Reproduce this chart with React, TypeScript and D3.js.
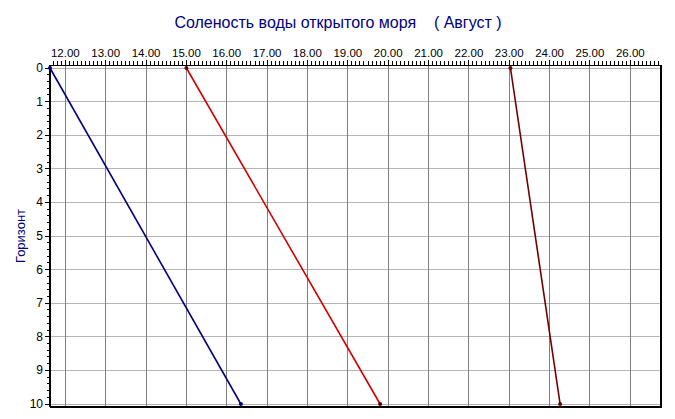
import React from "react";
import * as d3 from "d3";

const depths = [0, 10];
const seriesNames = ["s1", "s2", "s3"];
const series1 = [11.62, 16.35];
const series2 = [15.0, 19.8];
const series3 = [23.03, 24.26];
const seriesColors = ["#000080", "#d00000", "#700000"];
const xTicks = [12, 13, 14, 15, 16, 17, 18, 19, 20, 21, 22, 23, 24, 25, 26];
const yTicks = [0, 1, 2, 3, 4, 5, 6, 7, 8, 9, 10];
const title = "Соленость воды открытого моря    ( Август )";
const yLabel = "Горизонт";

export default function App() {
  const W = 675, H = 419;
  const left = 50, right = 661, top = 65, bottom = 407;
  const x = d3.scaleLinear().domain([11.62, 26.76]).range([left, right]);
  const y = d3.scaleLinear().domain([0, 10]).range([68, 404]);
  const all = [series1, series2, series3];
  const line = d3.line<[number, number]>().x((d) => x(d[0])).y((d) => y(d[1]));
  const minorX = d3.range(116, 268).map((v) => v / 10).filter((v) => x(v) >= left && x(v) <= right);
  const minorY = d3.range(0, 51).map((v) => v / 5);
  const font = "Arial, 'Liberation Sans', sans-serif";
  return (
    <svg width={W} height={H} style={{ position: "absolute", left: 0, top: 0, background: "#fff" }}>
      <text x={338} y={28} textAnchor="middle" fontFamily={font} fontSize={16} fill="#000080" style={{ whiteSpace: "pre" }}>
        {title}
      </text>
      {/* grid */}
      {yTicks.map((t) => (
        <line key={"hy" + t} x1={left} x2={right} y1={y(t)} y2={y(t)} stroke="#b4b4b4" strokeWidth={1} shapeRendering="crispEdges" />
      ))}
      {xTicks.map((t) => (
        <line key={"vx" + t} x1={x(t)} x2={x(t)} y1={top} y2={bottom} stroke="#808080" strokeWidth={1} shapeRendering="crispEdges" />
      ))}
      {/* frame */}
      <line x1={left} x2={right} y1={top} y2={top} stroke="#000" strokeWidth={1} shapeRendering="crispEdges" />
      <line x1={left} x2={left} y1={top} y2={bottom} stroke="#000" strokeWidth={1.5} shapeRendering="crispEdges" />
      <line x1={right} x2={right} y1={top} y2={bottom + 1} stroke="#000" strokeWidth={2} shapeRendering="crispEdges" />
      <line x1={left} x2={right + 1} y1={bottom} y2={bottom} stroke="#000" strokeWidth={2} shapeRendering="crispEdges" />
      {/* top axis ticks */}
      {minorX.map((v, i) => {
        const major = Math.abs(v - Math.round(v)) < 1e-6;
        return (
          <line key={"mx" + i} x1={x(v)} x2={x(v)} y1={major ? top - 5 : top - 4} y2={top} stroke="#000" strokeWidth={1} shapeRendering="crispEdges" />
        );
      })}
      {xTicks.map((t) => (
        <text key={"xl" + t} x={x(t)} y={57} textAnchor="middle" fontFamily={font} fontSize={11.5} fill="#000">
          {t.toFixed(2)}
        </text>
      ))}
      {/* left axis ticks */}
      {minorY.map((v, i) => {
        const major = Math.abs(v - Math.round(v)) < 1e-6;
        return (
          <line key={"my" + i} x1={major ? left - 5 : left - 3} x2={left} y1={y(v)} y2={y(v)} stroke="#000" strokeWidth={1} shapeRendering="crispEdges" />
        );
      })}
      {yTicks.map((t) => (
        <text key={"yl" + t} x={left - 7} y={y(t) + 4} textAnchor="end" fontFamily={font} fontSize={12} fill="#000">
          {t}
        </text>
      ))}
      <text transform={`translate(25,${(top + bottom) / 2}) rotate(-90)`} textAnchor="middle" fontFamily={font} fontSize={13} fill="#000080">
        {yLabel}
      </text>
      {/* series */}
      {all.map((s, i) => {
        const pts = s.map((v, j) => [v, depths[j]] as [number, number]);
        return (
          <g key={seriesNames[i]}>
            <path d={line(pts) || ""} fill="none" stroke={seriesColors[i]} strokeWidth={1.6} />
            {pts.map((p, j) => (
              <circle key={j} cx={x(p[0])} cy={y(p[1])} r={2} fill={i === 1 ? "#600000" : seriesColors[i]} />
            ))}
          </g>
        );
      })}
    </svg>
  );
}
